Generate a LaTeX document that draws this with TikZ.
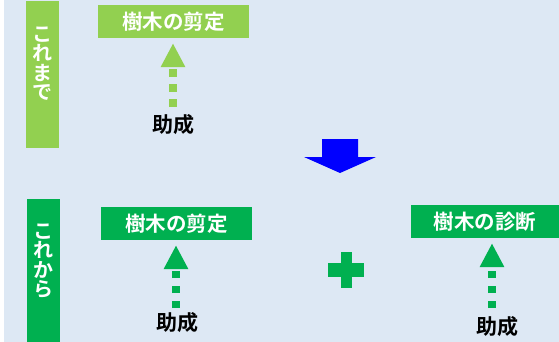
\documentclass[tikz,border=0pt]{standalone}
\usepackage{fontspec}
\usepackage{tikz}
\usetikzlibrary{positioning,arrows.meta}
\newfontfamily\jpfont{Noto Sans CJK JP}[BoldFont={Noto Sans CJK JP Bold}]
\definecolor{haikei}{RGB}{221,232,244}
\definecolor{kimidori}{RGB}{146,208,80}
\definecolor{midori}{RGB}{0,176,80}
\tikzset{
	hako/.style={fill=#1, text=white, minimum width=151pt, minimum height=33pt, inner sep=0pt, font=\jpfont\bfseries\fontsize{20.5}{20.5}\selectfont},
	obi/.style={fill=#1, minimum width=33pt, inner sep=0pt},
	tatemoji/.style={text=white, align=center, inner sep=0pt, font=\jpfont\bfseries\fontsize{20}{19.5}\selectfont},
	jyosei/.style={inner sep=0pt, font=\jpfont\bfseries\fontsize{21}{21}\selectfont},
	yajirushi/.style={draw=#1, line width=8pt, dash pattern=on 7.5pt off 7.5pt, -{Triangle[width=23pt,length=24pt]}, shorten >=5pt}
}
\begin{document}
\begin{tikzpicture}[x=1pt,y=-1pt]
		%Frame and background
		\fill[white] (0,0) rectangle (559,342);
		\useasboundingbox (0,0) rectangle (559,342);
		\fill[haikei] (4,0) rectangle (559,342);
		%Upper part (kore made)
		\node[obi=kimidori, minimum height=147pt] (koremade) at (42.5,74.5) {};
		\node[tatemoji] at ([yshift=11pt]koremade.center) {こ\\れ\\ま\\で};
		\node[hako=kimidori] (sentei1) at (173.5,21.5) {樹木の剪定};
		\node[jyosei] (jyosei1) at (173,125) {助成};
		\draw[yajirushi=kimidori] ([yshift=8pt]jyosei1.north) -- (jyosei1.north |- sentei1.south);
		%Blue arrow
		\fill[blue] (322,139) -- (358,139) -- (358,157) -- (376,157) -- (340,173) -- (304,157) -- (322,157) -- cycle;
		%Lower part (kore kara)
		\node[obi=midori, minimum height=143pt] (korekara) at (43.5,270.5) {};
		\node[tatemoji] at ([yshift=9.5pt]korekara.center) {こ\\れ\\か\\ら};
		\node[hako=midori] (sentei2) at (176.5,223.5) {樹木の剪定};
		\node[jyosei] (jyosei2) at (177,323) {助成};
		\draw[yajirushi=midori] ([xshift=-1pt,yshift=4.5pt]jyosei2.north) -- ([xshift=-1pt]jyosei2.north |- sentei2.south);
		%Plus
		\fill[midori] (328,263) rectangle (364,277);
		\fill[midori] (341,252) rectangle (352,288);
		\node[hako=midori, minimum width=148pt] (shindan) at (485,221.5) {樹木の診断};
		\node[jyosei] (jyosei3) at (497,327) {助成};
		\draw[yajirushi=midori] ([xshift=-5pt,yshift=8.5pt]jyosei3.north) -- ([xshift=-5pt]jyosei3.north |- shindan.south);
\end{tikzpicture}
\end{document}
